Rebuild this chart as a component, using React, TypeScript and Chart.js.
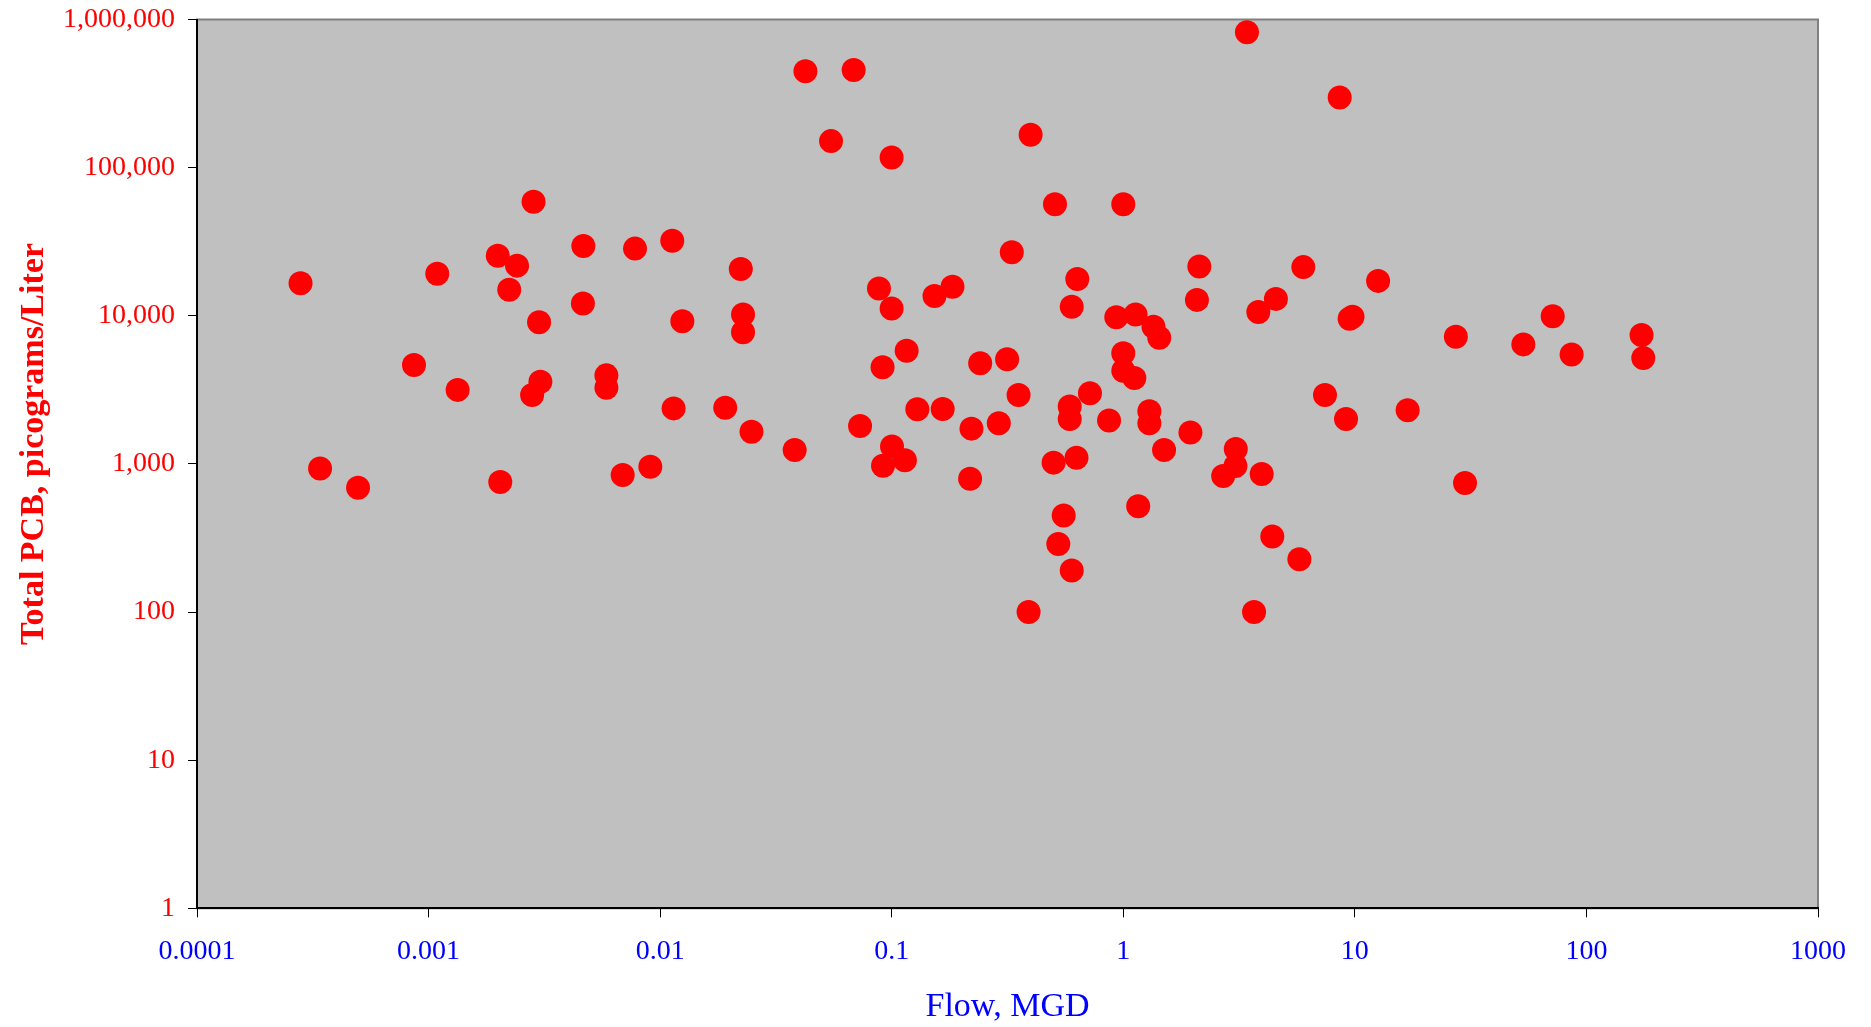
import React, { useEffect, useRef } from 'react';
import { Chart, registerables } from 'chart.js';

Chart.register(...registerables);

// Flow (MGD) and Total PCB (pg/L) for each sampled discharge
const flowMGD = [
  0.00028, 0.00034, 0.000496, 0.000865, 0.00109, 0.001335, 0.00199, 0.00204, 0.00223, 0.00241,
  0.00284, 0.0028, 0.003, 0.00304, 0.00466, 0.00464, 0.00586, 0.00586, 0.00689, 0.00779,
  0.00907, 0.01128, 0.01143, 0.01247, 0.0191, 0.0223, 0.0228, 0.0228, 0.0248, 0.0381,
  0.0424, 0.0547, 0.0685, 0.073, 0.0881, 0.0913, 0.0917, 0.0999, 0.0999, 0.1003,
  0.114, 0.116, 0.129, 0.153, 0.166, 0.183, 0.218, 0.221, 0.241, 0.29,
  0.315, 0.33, 0.353, 0.39, 0.398, 0.5, 0.507, 0.524, 0.553, 0.587,
  0.587, 0.599, 0.599, 0.628, 0.633, 0.718, 0.868, 0.933, 1.0, 1.0,
  1.0, 1.116, 1.13, 1.16, 1.296, 1.296, 1.35, 1.43, 1.5, 1.95,
  2.08, 2.13, 2.7, 3.06, 3.05, 3.42, 3.67, 3.83, 3.96, 4.4,
  4.56, 5.76, 5.99, 7.43, 8.6, 9.16, 9.49, 9.77, 12.6, 16.9,
  27.3, 29.9, 53.4, 71.5, 86.3, 173, 176,
];

const totalPCB = [
  16600, 930, 690, 4650, 19200, 3160, 25400, 754, 15000, 21800,
  58900, 2920, 9040, 3590, 29600, 12100, 3960, 3270, 841, 28400,
  958, 32100, 2370, 9170, 2390, 20700, 10200, 7730, 1650, 1240,
  447000, 151000, 456000, 1800, 15300, 4490, 972, 117000, 11200, 1310,
  1060, 5810, 2340, 13600, 2350, 15700, 794, 1730, 4780, 1880,
  5090, 26800, 2920, 100, 167000, 1020, 56600, 288, 449, 2440,
  2010, 11500, 191, 1100, 17700, 3000, 1960, 9770, 56600, 5580,
  4260, 3800, 10200, 517, 2270, 1880, 8440, 7110, 1240, 1630,
  12800, 21500, 829, 1260, 967, 819000, 100, 10600, 855, 324,
  13000, 227, 21300, 2920, 297000, 2010, 9560, 9860, 17200, 2300,
  7220, 743, 6410, 9920, 5470, 7410, 5190,
];

const xTickValues = [0.0001, 0.001, 0.01, 0.1, 1, 10, 100, 1000];
const xTickLabels = ['0.0001', '0.001', '0.01', '0.1', '1', '10', '100', '1000'];
const yTickValues = [1, 10, 100, 1000, 10000, 100000, 1000000];
const yTickLabels = ['1', '10', '100', '1,000', '10,000', '100,000', '1,000,000'];

const xAxisTitle = 'Flow, MGD';
const yAxisTitle = 'Total PCB, picograms/Liter';

const SERIF = "'Liberation Serif', 'Times New Roman', Times, serif";

const framePlugin = {
  id: 'plotFrame',
  beforeDraw(chart: any) {
    const { ctx, chartArea: a } = chart;
    ctx.save();
    ctx.fillStyle = '#C0C0C0';
    ctx.fillRect(a.left, a.top, a.right - a.left, a.bottom - a.top);
    ctx.strokeStyle = '#808080';
    ctx.lineWidth = 2;
    ctx.strokeRect(a.left, a.top, a.right - a.left, a.bottom - a.top);
    ctx.restore();
  },
  afterDraw(chart: any) {
    const { ctx, chartArea: a } = chart;
    ctx.save();
    ctx.font = `bold 34px ${SERIF}`;
    ctx.fillStyle = '#FF0000';
    ctx.textAlign = 'center';
    ctx.textBaseline = 'alphabetic';
    ctx.translate(43, 444);
    ctx.rotate(-Math.PI / 2);
    ctx.fillText(yAxisTitle, 0, 0);
    ctx.restore();

    ctx.save();
    ctx.font = `34px ${SERIF}`;
    ctx.fillStyle = '#0000FF';
    ctx.textAlign = 'center';
    ctx.textBaseline = 'alphabetic';
    ctx.fillText(xAxisTitle, (a.left + a.right) / 2, 1016);
    ctx.restore();
  },
};

export default function App() {
  const canvasRef = useRef<HTMLCanvasElement | null>(null);

  useEffect(() => {
    const canvas = canvasRef.current;
    if (!canvas) return;
    const points = flowMGD.map((x, i) => ({ x, y: totalPCB[i] }));
    const chart = new Chart(canvas, {
      type: 'scatter',
      data: {
        datasets: [
          {
            data: points,
            pointRadius: 12,
            pointHoverRadius: 12,
            backgroundColor: '#FF0000',
            borderWidth: 0,
            pointBorderWidth: 0,
          },
        ],
      },
      options: {
        animation: false,
        responsive: false,
        devicePixelRatio: 1,
        layout: { padding: { left: 0, top: 19.5, right: 53, bottom: 0 } },
        plugins: {
          legend: { display: false },
          tooltip: { enabled: false },
        },
        scales: {
          x: {
            type: 'logarithmic',
            position: 'bottom',
            min: 0.0001,
            max: 1000,
            afterBuildTicks: (scale: any) => {
              scale.ticks = xTickValues.map((v) => ({ value: v }));
            },
            afterFit: (scale: any) => {
              scale.height = 118.7;
              scale.paddingLeft = 0;
              scale.paddingRight = 0;
            },
            ticks: {
              autoSkip: false,
              maxRotation: 0,
              minRotation: 0,
              padding: 18,
              color: '#0000FF',
              font: { family: SERIF, size: 28 },
              callback: (_v: any, i: number) => xTickLabels[i],
            },
            grid: {
              drawOnChartArea: false,
              drawTicks: true,
              tickLength: 9,
              color: '#000000',
              lineWidth: 1,
            },
            border: { display: true, color: '#000000', width: 2 },
          },
          y: {
            type: 'logarithmic',
            position: 'left',
            min: 1,
            max: 1000000,
            afterBuildTicks: (scale: any) => {
              scale.ticks = yTickValues.map((v) => ({ value: v }));
            },
            afterFit: (scale: any) => {
              scale.width = 197;
              scale.paddingTop = 0;
              scale.paddingBottom = 0;
            },
            ticks: {
              autoSkip: false,
              padding: 13,
              color: '#FF0000',
              font: { family: SERIF, size: 28 },
              callback: (_v: any, i: number) => yTickLabels[i],
            },
            grid: {
              drawOnChartArea: false,
              drawTicks: true,
              tickLength: 9,
              color: '#000000',
              lineWidth: 1,
            },
            border: { display: true, color: '#000000', width: 2 },
          },
        },
      },
      plugins: [framePlugin],
    } as any);
    return () => chart.destroy();
  }, []);

  return (
    <div style={{ position: 'absolute', left: 0, top: 0, width: 1871, height: 1027, background: '#FFFFFF' }}>
      <canvas ref={canvasRef} width={1871} height={1027} style={{ display: 'block' }} />
    </div>
  );
}
